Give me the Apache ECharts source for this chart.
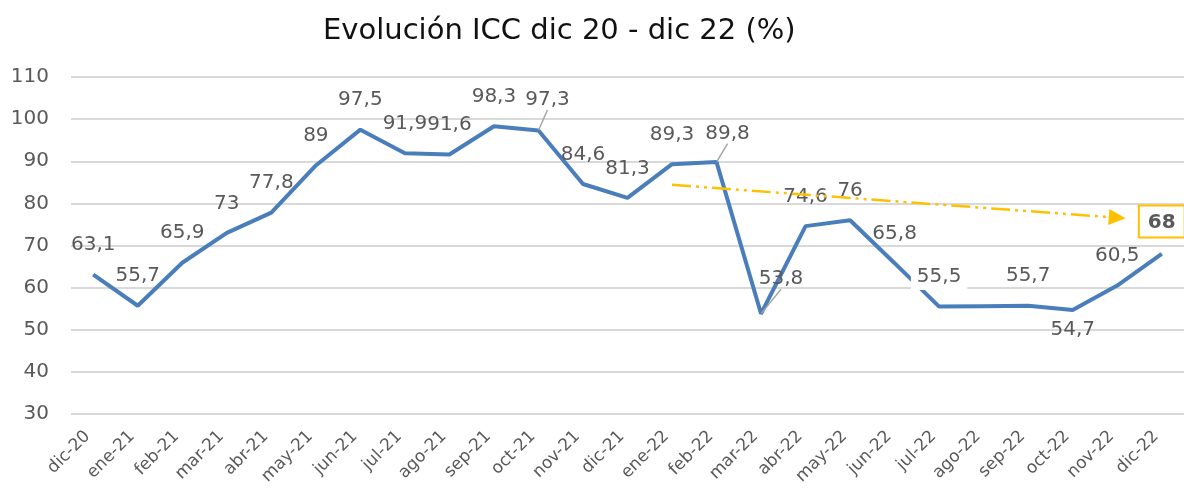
<!DOCTYPE html>
<html>
<head>
<meta charset="utf-8">
<script src="https://cdn.jsdelivr.net/npm/echarts@6/dist/echarts.min.js"></script>
<style>
  html, body { margin: 0; padding: 0; background: #ffffff; }
  #chart { width: 1184px; height: 490px; }
</style>
</head>
<body>
<div id="chart"></div>
<script>
// Monthly ICC index, December 2020 to December 2022
const months = ['dic-20','ene-21','feb-21','mar-21','abr-21','may-21','jun-21','jul-21','ago-21','sep-21','oct-21','nov-21','dic-21',
                'ene-22','feb-22','mar-22','abr-22','may-22','jun-22','jul-22','ago-22','sep-22','oct-22','nov-22','dic-22'];
const icc = [63.1, 55.7, 65.9, 73, 77.8, 89, 97.5, 91.9, 91.6, 98.3, 97.3, 84.6, 81.3,
             89.3, 89.8, 53.8, 74.6, 76, 65.8, 55.5, 55.6, 55.7, 54.7, 60.5, 68];
// months whose value is not printed
const unlabeled = ['ago-22'];
// trend arrow over 2022: [category position, value]
const trendStart = [12.83, 84.4];
const trendEnd = [22.9, 76.6];
const yTicks = { min: 30, max: 110, step: 10 };

const TEXT = '#595959';
const FONT = '"DejaVu Sans", "Noto Sans", sans-serif';

const fmt = v => String(v).replace('.', ',');

// labels pulled aside with a leader line
const shifted = { 'oct-21': [9, -1], 'feb-22': [11, 1], 'mar-22': [20, -5] };

const seriesData = icc.map((v, i) => {
  const item = { value: v };
  const m = months[i];
  if (unlabeled.includes(m)) {
    item.label = { show: false };
  } else if (m === 'oct-22') {
    item.label = { position: 'bottom', distance: 9 };
  } else if (m === 'jul-22') {
    item.label = { backgroundColor: '#ffffff', padding: [3, 6, 3, 6], distance: 16 };
  } else if (i === icc.length - 1) {
    item.label = {
      fontWeight: 'bold', borderColor: '#FFC000', borderWidth: 2,
      padding: [6, 8, 4, 8], backgroundColor: '#ffffff', distance: 17
    };
  }
  if (shifted[m]) {
    item.labelLine = { show: true };
  }
  return item;
});

const chart = echarts.init(document.getElementById('chart'));
chart.setOption({
  animation: false,
  backgroundColor: '#ffffff',
  textStyle: { fontFamily: FONT },
  title: {
    text: 'Evolución ICC dic 20 - dic 22 (%)',
    left: 318, top: 12,
    textStyle: { fontFamily: FONT, fontSize: 29, fontWeight: 'normal', color: '#111111' }
  },
  grid: { left: 71, top: 77, width: 1115, height: 337, containLabel: false },
  xAxis: {
    type: 'category',
    data: months,
    boundaryGap: true,
    axisLine: { show: false },
    axisTick: { show: false },
    axisLabel: {
      rotate: 45, color: TEXT, fontSize: 17, fontFamily: FONT,
      margin: 14, interval: 0, padding: [0, 8, 0, 0]
    },
    splitLine: { show: false }
  },
  yAxis: {
    type: 'value',
    min: yTicks.min, max: yTicks.max, interval: yTicks.step,
    axisLine: { show: false },
    axisTick: { show: false },
    axisLabel: { color: TEXT, fontSize: 20, fontFamily: FONT, margin: 22 },
    splitLine: { lineStyle: { color: '#D9D9D9', width: 2 } }
  },
  series: [{
    type: 'line',
    data: seriesData,
    symbol: 'circle',
    symbolSize: 1,
    showSymbol: true,
    itemStyle: { color: '#4A7EBB' },
    lineStyle: { color: '#4A7EBB', width: 4 },
    label: {
      show: true, position: 'top', distance: 19,
      color: TEXT, fontSize: 20, fontFamily: FONT,
      formatter: p => fmt(p.value)
    },
    labelLine: { show: false, lineStyle: { color: '#A6A6A6', width: 1.5 } },
    labelLayout: p => {
      const s = shifted[months[p.dataIndex]];
      return s ? { dx: s[0], dy: s[1] } : {};
    },
    markLine: {
      silent: true,
      symbol: ['none', 'triangle'],
      symbolSize: [16, 17],
      label: { show: false },
      lineStyle: { color: '#FFC000', width: 2.5, type: [19, 5, 3, 5, 3, 5] },
      data: [[
        { coord: trendStart },
        { coord: trendEnd }
      ]]
    }
  }]
});
</script>
</body>
</html>
